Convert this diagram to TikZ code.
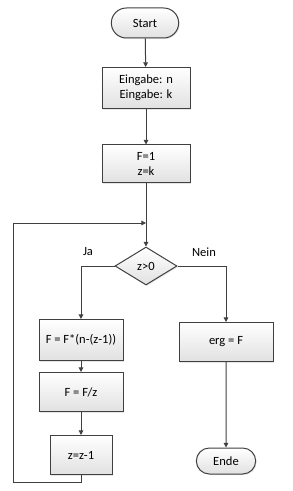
\documentclass[tikz,border=0pt]{standalone}
\usepackage{fontspec}
\setmainfont{Carlito}
\usetikzlibrary{positioning, arrows.meta, shapes.geometric, shapes.misc, shadows}
\definecolor{flowline}{RGB}{64, 64, 64}
\definecolor{flowshade}{RGB}{225, 225, 225}
\tikzset{
  every node/.style={font=\fontsize{9.4}{11}\selectfont},
  stepbox/.style={
    draw=flowline,
    line width=0.75pt,
    top color=white,
    bottom color=flowshade,
    drop shadow={opacity=0.2, shadow xshift=0.8pt, shadow yshift=-0.8pt},
    align=center,
    inner sep=1pt
  },
  terminal/.style={
    stepbox,
    rounded rectangle
  },
  decision/.style={
    stepbox,
    diamond,
    inner sep=0pt
  },
  flow/.style={
    draw=flowline,
    line width=0.75pt,
    -{Triangle[length=3.5pt,width=3.5pt]}
  }
}

\begin{document}
\begin{tikzpicture}[x=0.75pt, y=-0.75pt]
  \useasboundingbox (0,0) rectangle (292,491);

  \node[terminal, minimum width=52.5pt, minimum height=22.5pt] (start) at (145,23) {Start};
  \node[stepbox, minimum width=66pt, minimum height=30.75pt] (input) at (146,88) {Eingabe: n\\Eingabe: k};
  \node[stepbox, minimum width=66pt, minimum height=28.5pt] (init) at (146,164) {F=1\\z=k};
  \coordinate (merge) at (146,223);
  \node[decision, minimum width=46.5pt, minimum height=28.5pt] (cond) at (146,266) {z>0};
  \node at (88,252) {Ja};
  \node at (204,252) {Nein};

  \node[stepbox, minimum width=63pt, minimum height=30.75pt] (mult) at (81,340) {F = F*(n-(z-1))};
  \node[stepbox, minimum width=63pt, minimum height=29.25pt] (divide) at (81,392) {F = F/z};
  \node[stepbox, minimum width=46.5pt, minimum height=29.25pt] (zdec) at (81,455) {z=z-1};

  \node[stepbox, minimum width=70.5pt, minimum height=29.25pt] (result) at (226,342) {erg = F};
  \node[terminal, minimum width=46.5pt, minimum height=19.5pt] (ende) at (226,461) {Ende};

  \coordinate (loopcorner) at (13,482);

  % main line
  \draw[flow] (start) -- (input);
  \draw[flow] (input) -- (init);
  \draw[flow] (init) -- (cond);
  % yes branch
  \draw[flow] (cond.west) -| (mult.north);
  \draw[flow] (mult) -- (divide);
  \draw[flow] (divide) -- (zdec);
  \draw[flow] (zdec.south) |- (loopcorner) |- (merge);
  % no branch
  \draw[flow] (cond.east) -| (result.north);
  \draw[flow] (result) -- (ende);
\end{tikzpicture}
\end{document}
